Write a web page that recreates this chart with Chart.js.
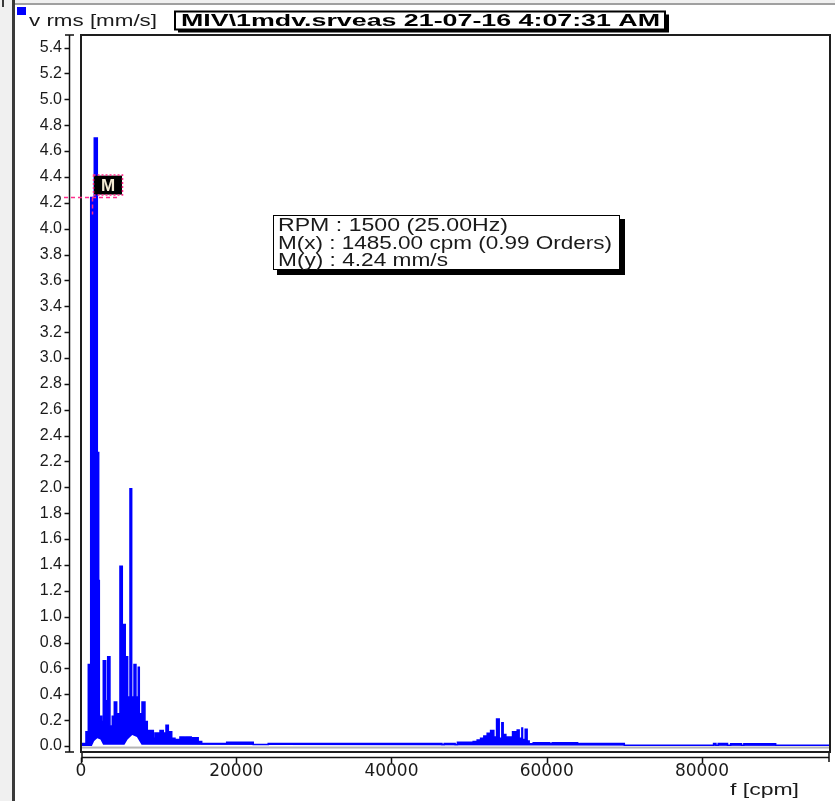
<!DOCTYPE html>
<html>
<head>
<meta charset="utf-8">
<title>v rms spectrum</title>
<script src="https://cdn.jsdelivr.net/npm/chart.js@4.4.1/dist/chart.umd.min.js"></script>
<style>
  html, body { margin: 0; padding: 0; background: #fff; }
  canvas { display: block; }
</style>
</head>
<body>
<canvas id="spectrumChart" width="835" height="801"></canvas>
<script>
// upper trace of the spectrum (drawn stepped)
const upperCpm = [
  0, 640, 940, 1250, 1520, 1710, 2100, 2280, 2360, 2660,
  2870, 3180, 3440, 3730, 4030, 4290, 4600, 5020, 5320, 5700,
  6010, 6310, 6530, 6830, 7080, 7380, 7510, 7860, 8240, 8540,
  8890, 9320, 9530, 10180, 10600, 10950, 11250, 11690, 12110, 12750,
  13300, 13500, 14200, 14400, 15100, 15550, 18770, 22190, 24120, 46500,
  46800, 48200, 48500, 50530, 51040, 51480, 51900, 52330, 52770, 53190,
  53540, 53880, 54220, 54390, 54740, 55600, 56200, 56450, 56800, 56890,
  57230, 57480, 57740, 58260, 60400, 60700, 64000, 64300, 70000, 81500,
  81800, 82100, 83300, 83700, 85100, 85400, 89500, 89800, 96500
];
const upperAmp = [
  0.005, 0.02, 0.11, 0.63, 4.24, 2.27, 4.70, 2.27, 1.28, 0.23,
  0.19, 0.66, 0.35, 0.69, 0.155, 0.23, 0.34, 0.25, 1.39, 0.94,
  0.69, 0.38, 1.99, 0.38, 0.63, 0.38, 0.61, 0.25, 0.34, 0.19,
  0.12, 0.12, 0.06, 0.10, 0.12, 0.10, 0.16, 0.11, 0.06, 0.05,
  0.07, 0.05, 0.07, 0.05, 0.065, 0.035, 0.02, 0.03, 0.012, 0.02,
  0.012, 0.02, 0.012, 0.03, 0.035, 0.046, 0.06, 0.077, 0.098, 0.12,
  0.07, 0.21, 0.06, 0.18, 0.09, 0.07, 0.11, 0.124, 0.06, 0.14,
  0.05, 0.13, 0.04, 0.018, 0.025, 0.018, 0.025, 0.018, 0.02, 0.006,
  0.02, 0.006, 0.02, 0.006, 0.018, 0.006, 0.018, 0.006, 0.006
];
// lower edge of the dense part (white gaps under the trace)
const floorCpm = [0, 1400, 1700, 2100, 2500, 2850, 5600, 6000, 6600, 7200, 7800, 96500];
const floorAmp = [0, 0, 0.04, 0.06, 0.05, 0.01, 0.01, 0.05, 0.085, 0.07, 0.01, 0];

const xTickValues = [0, 20000, 40000, 60000, 80000];
const yTickValues = [
  0.0, 0.2, 0.4, 0.6, 0.8, 1.0, 1.2, 1.4, 1.6, 1.8, 2.0, 2.2, 2.4, 2.6,
  2.8, 3.0, 3.2, 3.4, 3.6, 3.8, 4.0, 4.2, 4.4, 4.6, 4.8, 5.0, 5.2, 5.4
];

const markerCpm = 1485;
const markerAmp = 4.24;
const headerUnit = 'v rms [mm/s]';
const headerFile = 'MIV\\1mdv.srveas 21-07-16 4:07:31 AM';
const infoLines = ['RPM : 1500 (25.00Hz)', 'M(x) : 1485.00 cpm (0.99 Orders)', 'M(y) : 4.24 mm/s'];
const xTitle = 'f [cpm]';

const BLUE = '#0000ff';
const PINK = '#ff2d8c';

function fitText(ctx, text, x, y, w, font, color) {
  ctx.save();
  ctx.font = font;
  ctx.fillStyle = color;
  ctx.textAlign = 'left';
  ctx.textBaseline = 'alphabetic';
  const m = ctx.measureText(text).width;
  ctx.translate(x, y);
  ctx.scale(w / m, 1);
  ctx.fillText(text, 0, 0);
  ctx.restore();
}

const frame = {
  id: 'frame',
  beforeDraw(chart) {
    const ctx = chart.ctx;
    ctx.save();
    ctx.fillStyle = '#ffffff';
    ctx.fillRect(0, 0, chart.width, chart.height);
    ctx.fillStyle = '#f0f0f0';
    ctx.fillRect(0, 0, 12, chart.height);
    ctx.fillRect(0, 0, chart.width, 3);
    ctx.fillStyle = '#a0a0a0';
    ctx.fillRect(15, 3, chart.width - 15, 2);
    ctx.fillStyle = '#3a3a3a';
    ctx.fillRect(12, 0, 3, chart.height);
    ctx.fillRect(2, 0, 2, 7);
    ctx.restore();
  },
  beforeDatasetsDraw(chart) {
    const ctx = chart.ctx;
    const a = chart.chartArea;
    const y0 = chart.scales.y.getPixelForValue(0);
    ctx.save();
    ctx.fillStyle = '#b4b4b4';
    ctx.fillRect(a.left + 1, y0 + 0.5, a.right - a.left - 2, 2);
    ctx.restore();
  },
  afterDraw(chart) {
    const ctx = chart.ctx;
    const a = chart.chartArea;
    const xs = chart.scales.x;
    const ys = chart.scales.y;
    ctx.save();

    // plot box
    ctx.strokeStyle = '#1e1e1e';
    ctx.lineWidth = 2;
    ctx.strokeRect(a.left, a.top, a.right - a.left, a.bottom - a.top);

    // y axis, set off to the left of the box
    ctx.strokeStyle = '#111';
    ctx.lineWidth = 1.5;
    const ax = 69.5;
    ctx.beginPath();
    ctx.moveTo(ax, a.top); ctx.lineTo(ax, a.bottom);
    ctx.moveTo(65, a.top); ctx.lineTo(74, a.top);
    ctx.moveTo(65, a.bottom); ctx.lineTo(74, a.bottom);
    yTickValues.forEach(v => {
      const py = Math.round(ys.getPixelForValue(v)) + 0.5;
      ctx.moveTo(64.5, py); ctx.lineTo(ax, py);
    });
    ctx.stroke();

    // x axis, set off below the box
    const ay = 757.5;
    ctx.beginPath();
    ctx.moveTo(a.left + 1, ay); ctx.lineTo(a.right - 1, ay);
    ctx.moveTo(a.left + 1, 753); ctx.lineTo(a.left + 1, 762);
    ctx.moveTo(a.right - 1, 753); ctx.lineTo(a.right - 1, 762);
    xTickValues.forEach(v => {
      const px = Math.round(xs.getPixelForValue(v)) + 0.5;
      ctx.moveTo(px, ay); ctx.lineTo(px, 763);
    });
    ctx.stroke();
    fitText(ctx, xTitle, 730, 795, 69, '16px "Liberation Sans"', '#1a1a1a');

    // header
    ctx.fillStyle = BLUE;
    ctx.fillRect(17, 7, 9, 8);
    fitText(ctx, headerUnit, 29, 26, 128, '16px "Liberation Sans"', '#1a1a1a');
    ctx.fillStyle = '#000';
    ctx.fillRect(178, 14.5, 491, 18);
    ctx.fillStyle = '#fff';
    ctx.fillRect(175, 11.5, 490, 18);
    ctx.strokeStyle = '#000';
    ctx.lineWidth = 2;
    ctx.strokeRect(175, 11.5, 490, 18);
    fitText(ctx, headerFile, 181, 25.5, 479, 'bold 16px "Liberation Sans"', '#000');

    // info box
    ctx.fillStyle = '#000';
    ctx.fillRect(277, 219, 348, 56);
    ctx.fillStyle = '#fff';
    ctx.fillRect(273, 215, 347, 55);
    ctx.lineWidth = 1;
    ctx.strokeRect(273.5, 215.5, 346, 54);
    fitText(ctx, infoLines[0], 278, 231, 230, '18px "Liberation Sans"', '#1a1a1a');
    fitText(ctx, infoLines[1], 278, 249, 334, '18px "Liberation Sans"', '#1a1a1a');
    fitText(ctx, infoLines[2], 278, 266, 170, '18px "Liberation Sans"', '#1a1a1a');

    // marker crosshair and label
    const mx = xs.getPixelForValue(markerCpm);
    const my = ys.getPixelForValue(markerAmp);
    ctx.strokeStyle = PINK;
    ctx.lineWidth = 1.5;
    ctx.setLineDash([4, 3]);
    ctx.beginPath();
    ctx.moveTo(64, my); ctx.lineTo(mx + 25, my);
    ctx.moveTo(mx, my); ctx.lineTo(mx, my + 17);
    ctx.stroke();
    const bx = mx + 1.5, by = my - 22;
    ctx.fillStyle = '#000';
    ctx.fillRect(bx, by, 28, 19);
    ctx.lineWidth = 1.5;
    ctx.setLineDash([2, 2]);
    ctx.strokeRect(bx - 0.5, by - 0.5, 29, 20);
    ctx.setLineDash([]);
    ctx.fillStyle = '#f3ead2';
    ctx.font = 'bold 17px "Liberation Sans"';
    ctx.textAlign = 'center';
    ctx.textBaseline = 'middle';
    ctx.fillText('M', bx + 14, by + 10.5);

    ctx.restore();
  }
};

const upperPoints = upperCpm.map((f, i) => ({ x: f, y: upperAmp[i] }));
const floorPoints = floorCpm.map((f, i) => ({ x: f, y: floorAmp[i] }));

new Chart(document.getElementById('spectrumChart'), {
  type: 'line',
  data: {
    datasets: [
      {
        label: 'v rms',
        data: upperPoints,
        stepped: 'after',
        borderColor: BLUE,
        backgroundColor: BLUE,
        borderWidth: 1.5,
        pointRadius: 0,
        fill: '+1',
      },
      {
        label: 'floor',
        data: floorPoints,
        borderColor: 'rgba(0,0,0,0)',
        borderWidth: 0,
        pointRadius: 0,
        fill: false,
      },
    ],
  },
  options: {
    responsive: false,
    animation: false,
    devicePixelRatio: 1,
    layout: { padding: { left: 0, right: 5, top: 35, bottom: 0 } },
    plugins: {
      legend: { display: false },
      tooltip: { enabled: false },
    },
    scales: {
      x: {
        type: 'linear',
        min: 0,
        max: 96500,
        afterFit: (s) => { s.height = 49; },
        afterBuildTicks: (s) => { s.ticks = xTickValues.map(v => ({ value: v })); },
        grid: { display: false, drawTicks: false },
        border: { display: false },
        ticks: {
          autoSkip: false,
          maxRotation: 0,
          padding: 9,
          color: '#1a1a1a',
          font: { family: 'DejaVu Sans', size: 17 },
          callback: (v) => String(v),
        },
      },
      y: {
        type: 'linear',
        min: -0.046,
        max: 5.497,
        afterFit: (s) => { s.width = 81; },
        afterBuildTicks: (s) => { s.ticks = yTickValues.map(v => ({ value: v })); },
        grid: { display: false, drawTicks: false },
        border: { display: false },
        ticks: {
          autoSkip: false,
          padding: 19,
          color: '#1a1a1a',
          font: { family: 'Liberation Sans', size: 16 },
          callback: (v) => Number(v).toFixed(1),
        },
      },
    },
  },
  plugins: [frame],
});
</script>
</body>
</html>
